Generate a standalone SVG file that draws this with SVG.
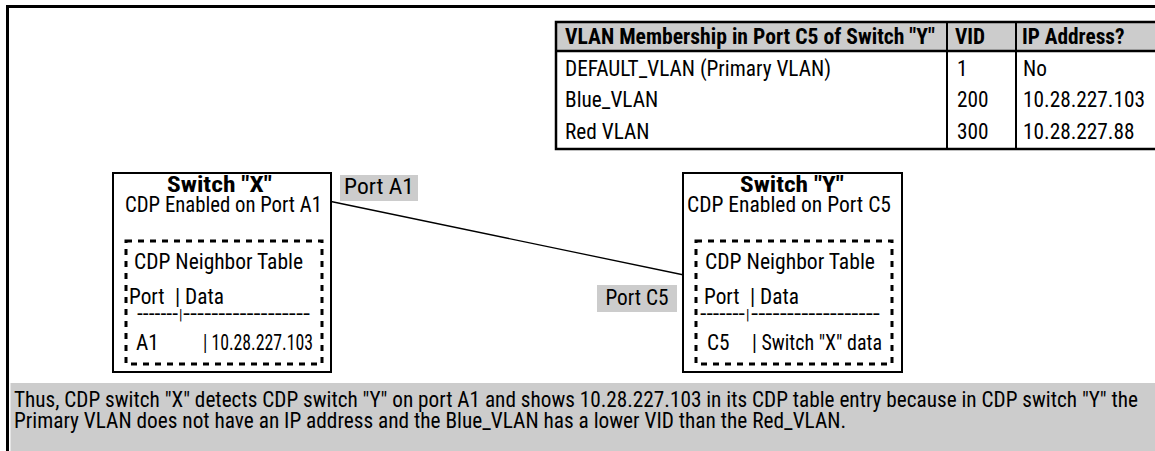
<svg xmlns="http://www.w3.org/2000/svg" width="1155" height="451" viewBox="0 0 1155 451">
<style>
text{font-family:'Liberation Sans Narrow','Roboto Condensed','DejaVu Sans Condensed','Liberation Sans',sans-serif;font-stretch:condensed;font-size:21.3px;fill:#000}
.b{font-weight:bold}
.m{text-anchor:middle}
.p{font-size:14px}
.gray{fill:#cccccc}
.box{fill:#fff;stroke:#000;stroke-width:2}
.dash{fill:none;stroke:#000;stroke-width:3;stroke-dasharray:6 6}
.tl{stroke:#000;stroke-width:2.5;fill:none}
.tc{stroke:#000;stroke-width:2;fill:none}
</style>
<rect width="1155" height="451" fill="#fff"/>
<path d="M7.5,451 V6.5 H1155" fill="none" stroke="#000" stroke-width="3"/>

<g id="vlan-table">
<rect x="556" y="22" width="600" height="29" class="gray"/>
<path d="M1156,22 H556 V149 H1156" class="tl"/>
<line x1="556" y1="51" x2="1156" y2="51" class="tl"/>
<line x1="947" y1="22" x2="947" y2="149" class="tc"/>
<line x1="1016" y1="22" x2="1016" y2="149" class="tc"/>
<text x="565" y="44" class="b" textLength="370" lengthAdjust="spacingAndGlyphs">VLAN Membership in Port C5 of Switch "Y"</text>
<text x="955" y="44" class="b">VID</text>
<text x="1022" y="44" class="b">IP Address?</text>
<text x="565" y="76">DEFAULT_VLAN (Primary VLAN)</text>
<text x="957" y="76">1</text>
<text x="1023" y="76">No</text>
<text x="565" y="107">Blue_VLAN</text>
<text x="957" y="107">200</text>
<text x="1023" y="107">10.28.227.103</text>
<text x="565" y="139">Red VLAN</text>
<text x="957" y="139">300</text>
<text x="1023" y="139">10.28.227.88</text>
</g>

<g id="connectors">
<line x1="331" y1="201.5" x2="684" y2="275" stroke="#000" stroke-width="1.3"/>
</g>

<g id="switch-x">
<rect x="113" y="173" width="218" height="199" class="box"/>
<text x="167" y="192" class="b" textLength="105" lengthAdjust="spacingAndGlyphs">Switch "X"</text>
<text x="125" y="212" textLength="197" lengthAdjust="spacingAndGlyphs">CDP Enabled on Port A1</text>
<rect x="126" y="241" width="196" height="123" class="dash"/>
<text x="134" y="269" textLength="169" lengthAdjust="spacingAndGlyphs">CDP Neighbor Table</text>
<text x="129" y="304">Port</text>
<text x="175" y="304">| Data</text>
<text x="137" y="321" textLength="41" lengthAdjust="spacingAndGlyphs">-------</text>
<text x="179" y="320" class="p">|</text>
<text x="183" y="321" textLength="127" lengthAdjust="spacingAndGlyphs">------------------</text>
<text x="136" y="350">A1</text>
<text x="203" y="350" textLength="110" lengthAdjust="spacingAndGlyphs">| 10.28.227.103</text>
</g>

<g id="port-a1">
<rect x="340" y="175" width="78" height="26" class="gray"/>
<text x="344" y="194" textLength="70" lengthAdjust="spacingAndGlyphs">Port A1</text>
</g>

<g id="switch-y">
<rect x="683" y="173" width="219" height="199" class="box"/>
<text x="740" y="192" class="b" textLength="104" lengthAdjust="spacingAndGlyphs">Switch "Y"</text>
<text x="687" y="212" textLength="204" lengthAdjust="spacingAndGlyphs">CDP Enabled on Port C5</text>
<rect x="696" y="241" width="196" height="123" class="dash"/>
<text x="705" y="269" textLength="170" lengthAdjust="spacingAndGlyphs">CDP Neighbor Table</text>
<text x="704" y="304">Port</text>
<text x="750" y="304">| Data</text>
<text x="700" y="321" textLength="45" lengthAdjust="spacingAndGlyphs">-------</text>
<text x="746" y="320" class="p">|</text>
<text x="751" y="321" textLength="129" lengthAdjust="spacingAndGlyphs">------------------</text>
<text x="707" y="350">C5</text>
<text x="752" y="350" textLength="130" lengthAdjust="spacingAndGlyphs">| Switch "X" data</text>
</g>

<g id="port-c5">
<rect x="597" y="285" width="80" height="27" class="gray"/>
<text x="637" y="305" class="m">Port C5</text>
</g>

<g id="note">
<rect x="10.5" y="383" width="1145" height="68" class="gray"/>
<text x="14" y="407" textLength="1124" lengthAdjust="spacingAndGlyphs">Thus, CDP switch "X" detects CDP switch "Y" on port A1 and shows 10.28.227.103 in its CDP table entry because in CDP switch "Y" the</text>
<text x="14" y="428">Primary VLAN does not have an IP address and the Blue_VLAN has a lower VID than the Red_VLAN.</text>
</g>
</svg>
